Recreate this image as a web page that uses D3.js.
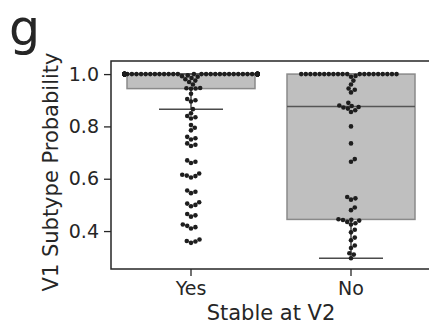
<!DOCTYPE html>
<html>
<head>
<meta charset="utf-8">
<script src="https://cdn.jsdelivr.net/npm/d3@7"></script>
<style>
  body { margin: 0; background: #fff; }
  text { font-family: "DejaVu Sans", sans-serif; fill: #262626; }
</style>
</head>
<body>
<div id="chart-div"></div>
<script>
const categories = ['Yes', 'No']
const yTicks = [0.4, 0.6, 0.8, 1.0]

// probabilities below 1.0
const yesValues = [0.355, 0.36, 0.362, 0.368, 0.41, 0.415, 0.42, 0.425, 0.455, 0.46, 0.465,
  0.495, 0.5, 0.505, 0.51, 0.545, 0.55, 0.555, 0.605, 0.61, 0.612, 0.615, 0.62,
  0.66, 0.665, 0.67, 0.725, 0.73, 0.735, 0.75, 0.755, 0.76, 0.785, 0.795, 0.805,
  0.83, 0.835, 0.84, 0.85, 0.866, 0.895, 0.9, 0.905, 0.925,
  0.944, 0.945, 0.946, 0.947, 0.96, 0.97, 0.975, 0.98, 0.985, 0.99, 0.992, 0.995]
const yesOnes = 123   // samples sitting exactly at 1.0

const noValues = [0.296, 0.31, 0.315, 0.335, 0.345, 0.365, 0.375, 0.395, 0.405, 0.425, 0.43,
  0.435, 0.44, 0.442, 0.443, 0.445, 0.48, 0.49, 0.52, 0.525, 0.53, 0.665, 0.675, 0.735,
  0.8, 0.855, 0.862, 0.868, 0.872, 0.874, 0.878, 0.88, 0.89, 0.93, 0.94, 0.945, 0.96,
  0.975, 0.99, 0.993]
const noOnes = 20

const width = 429
const height = 323
const margin = { top: 61, right: -2, bottom: 54, left: 111 }
const innerWidth = width - margin.left - margin.right
const innerHeight = height - margin.top - margin.bottom
const dotR = 2.3
const textColor = '#262626'

const groups = [
  { name: 'Yes', values: yesValues.concat(Array(yesOnes).fill(1.0)) },
  { name: 'No', values: noValues.concat(Array(noOnes).fill(1.0)) }
]

const svg = d3.select('#chart-div').append('svg')
  .attr('width', width)
  .attr('height', height)

const g = svg.append('g')
  .attr('transform', `translate(${margin.left},${margin.top})`)

const xScale = d3.scaleBand()
  .domain(categories)
  .range([0, innerWidth])

const yScale = d3.scaleLinear()
  .domain([0.255, 1.05])
  .range([innerHeight, 0])

const boxW = xScale.bandwidth() * 0.8

// boxes (matplotlib style: 1.5 IQR whiskers)
groups.forEach(grp => {
  const v = grp.values.slice().sort(d3.ascending)
  const q1 = d3.quantile(v, 0.25)
  const med = d3.quantile(v, 0.5)
  const q3 = d3.quantile(v, 0.75)
  const iqr = q3 - q1
  const lo = d3.min(v.filter(d => d >= q1 - 1.5 * iqr))
  const hi = d3.max(v.filter(d => d <= q3 + 1.5 * iqr))
  const cx = xScale(grp.name) + xScale.bandwidth() / 2
  const bg = g.append('g')

  bg.append('line')
    .attr('x1', cx).attr('x2', cx)
    .attr('y1', yScale(q1)).attr('y2', yScale(lo))
    .attr('stroke', '#4a4a4a').attr('stroke-width', 1.5)
  bg.append('line')
    .attr('x1', cx).attr('x2', cx)
    .attr('y1', yScale(q3)).attr('y2', yScale(hi))
    .attr('stroke', '#4a4a4a').attr('stroke-width', 1.5)
  ;[lo, hi].forEach(c => {
    bg.append('line')
      .attr('x1', cx - boxW / 4).attr('x2', cx + boxW / 4)
      .attr('y1', yScale(c)).attr('y2', yScale(c))
      .attr('stroke', '#4a4a4a').attr('stroke-width', 1.5)
  })
  bg.append('rect')
    .attr('x', cx - boxW / 2)
    .attr('y', yScale(q3))
    .attr('width', boxW)
    .attr('height', yScale(q1) - yScale(q3))
    .attr('fill', '#bfbfbf')
    .attr('stroke', '#8a8a8a')
    .attr('stroke-width', 1.5)
  bg.append('line')
    .attr('x1', cx - boxW / 2).attr('x2', cx + boxW / 2)
    .attr('y1', yScale(med)).attr('y2', yScale(med))
    .attr('stroke', '#555').attr('stroke-width', 1.5)
})

// seaborn-like swarm: sorted by value, each dot as close to the centre as it fits
const swarm = (vals, cx, gutter) => {
  const d = dotR * 2
  const placed = []
  vals.slice().sort(d3.ascending).forEach(v => {
    const y = yScale(v)
    const near = placed.filter(p => Math.abs(p.y - y) < d)
    const cands = [0]
    near.forEach(p => {
      const dx = Math.sqrt(d * d - (p.y - y) ** 2)
      cands.push(p.dx + dx, p.dx - dx)
    })
    cands.sort((a, b) => Math.abs(a) - Math.abs(b))
    const dx = cands.find(c => near.every(p => (p.dx - c) ** 2 + (p.y - y) ** 2 >= d * d - 0.01))
    placed.push({ v: v, y: y, dx: dx })
  })
  return placed.map(p => ({ x: cx + Math.max(-gutter, Math.min(gutter, p.dx)), y: p.y }))
}

groups.forEach(grp => {
  const cx = xScale(grp.name) + xScale.bandwidth() / 2
  g.append('g').selectAll('circle')
    .data(swarm(grp.values, cx, boxW / 2 + 2.5))
    .enter().append('circle')
      .attr('cx', d => d.x)
      .attr('cy', d => d.y)
      .attr('r', dotR)
      .attr('fill', '#1e1e1e')
})

// axes
const yAxis = d3.axisLeft(yScale)
  .tickValues(yTicks)
  .tickFormat(d3.format('.1f'))
  .tickSize(7)
  .tickPadding(5)
const yAxisG = g.append('g').call(yAxis)
yAxisG.select('.domain').remove()
yAxisG.selectAll('line').attr('stroke', textColor).attr('stroke-width', 1.3)
yAxisG.selectAll('text').attr('font-size', '19px').attr('fill', textColor)
  .attr('font-family', '"DejaVu Sans", sans-serif')

const xAxis = d3.axisBottom(xScale)
  .tickSize(7)
  .tickPadding(6)
const xAxisG = g.append('g').call(xAxis)
  .attr('transform', `translate(0,${innerHeight})`)
xAxisG.select('.domain').remove()
xAxisG.selectAll('line').attr('stroke', textColor).attr('stroke-width', 1.3)
xAxisG.selectAll('text').attr('font-size', '19px').attr('fill', textColor)
  .attr('font-family', '"DejaVu Sans", sans-serif')

// spines
g.append('rect')
  .attr('x', 0).attr('y', 0)
  .attr('width', innerWidth).attr('height', innerHeight)
  .attr('fill', 'none')
  .attr('stroke', textColor)
  .attr('stroke-width', 1.5)

g.append('text')
  .attr('x', innerWidth / 2)
  .attr('y', innerHeight + 51)
  .attr('text-anchor', 'middle')
  .attr('font-size', '21px')
  .text('Stable at V2')

g.append('text')
  .attr('transform', 'rotate(-90)')
  .attr('x', -(innerHeight / 2 + 7))
  .attr('y', -53)
  .attr('text-anchor', 'middle')
  .attr('font-size', '21px')
  .text('V1 Subtype Probability')

svg.append('text')
  .attr('x', 9)
  .attr('y', 45)
  .attr('font-size', '49px')
  .text('g')
</script>
</body>
</html>
